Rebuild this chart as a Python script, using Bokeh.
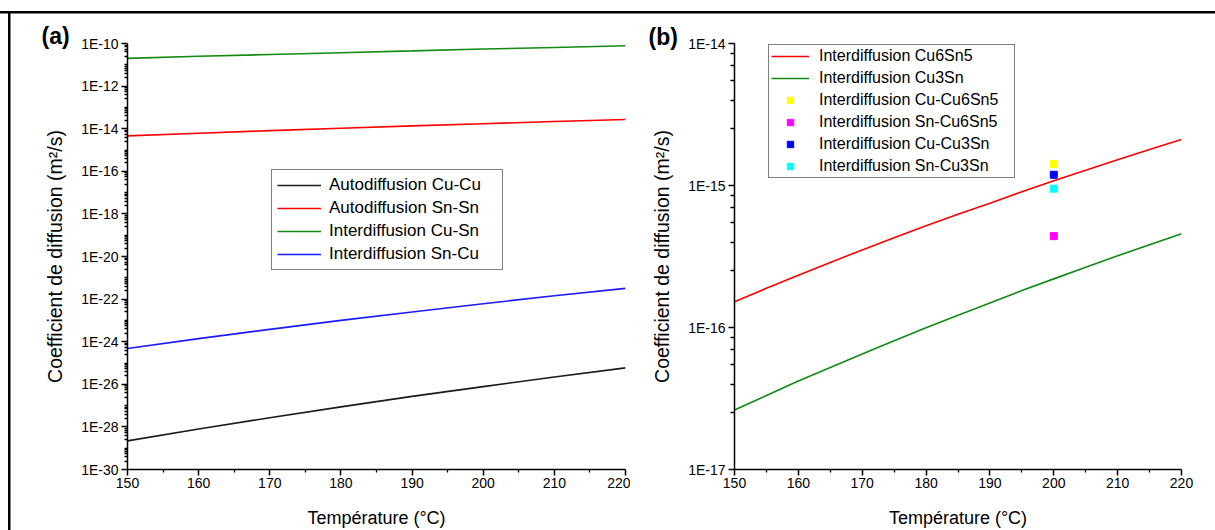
from bokeh.plotting import figure
from bokeh.layouts import row
from bokeh.models import (Range1d, FixedTicker, CustomJSTickFormatter, Title)
from bokeh.embed import file_html
from bokeh.resources import INLINE

# ---------------- data ----------------
temps_a = [150, 160, 170, 180, 190, 200, 210, 220]

# panel (a)
auto_cu_cu = [2.2e-29, 7.9e-29, 2.7e-28, 8.7e-28, 2.7e-27, 7.8e-27, 2.2e-26, 5.9e-26]
auto_sn_sn = [4.6e-15, 6.1e-15, 8.1e-15, 1.05e-14, 1.35e-14, 1.72e-14, 2.17e-14, 2.7e-14]
inter_cu_sn = [2.0e-11, 2.5e-11, 3.05e-11, 3.7e-11, 4.5e-11, 5.5e-11, 6.5e-11, 7.8e-11]
inter_sn_cu = [4.8e-25, 1.4e-24, 3.8e-24, 1.0e-23, 2.5e-23, 6.1e-23, 1.43e-22, 3.2e-22]

# panel (b)
temps_b = [150, 155, 160, 165, 170, 175, 180, 185, 190, 195, 200, 205, 210, 215, 220]
inter_cu6sn5 = [1.52e-16, 1.89e-16, 2.33e-16, 2.87e-16, 3.52e-16, 4.28e-16, 5.2e-16, 6.27e-16,
                7.5e-16, 9.03e-16, 1.08e-15, 1.28e-15, 1.52e-15, 1.79e-15, 2.11e-15]
inter_cu3sn = [2.62e-17, 3.32e-17, 4.2e-17, 5.22e-17, 6.5e-17, 8.07e-17, 9.95e-17, 1.22e-16,
               1.49e-16, 1.82e-16, 2.2e-16, 2.66e-16, 3.2e-16, 3.83e-16, 4.57e-16]
point_temp = [200]
cu_cu6sn5 = [1.42e-15]
sn_cu6sn5 = [4.4e-16]
cu_cu3sn = [1.19e-15]
sn_cu3sn = [9.5e-16]

x_ticks = [150, 160, 170, 180, 190, 200, 210, 220]
x_minor = [155, 165, 175, 185, 195, 205, 215]
left_y_exps = [-30, -28, -26, -24, -22, -20, -18, -16, -14, -12, -10]
left_y_labels = ["1E-30", "1E-28", "1E-26", "1E-24", "1E-22", "1E-20",
                 "1E-18", "1E-16", "1E-14", "1E-12", "1E-10"]
right_y_exps = [-17, -16, -15, -14]
right_y_labels = ["1E-17", "1E-16", "1E-15", "1E-14"]

FONT = "Liberation Sans"
FMT_CODE = """
const e = Math.round(Math.log10(tick));
const i = exps.indexOf(e);
return i >= 0 ? labels[i] : '';
"""


def minor_log(lo, hi):
    out = []
    for e in range(lo, hi):
        for m in (2.5, 4.0, 5.5, 7.0, 8.5):
            out.append(m * 10.0 ** e)
    return out


def style_axes(p, xlabel, ylabel):
    p.axis.axis_line_color = "black"
    p.axis.axis_line_width = 1.5
    p.axis.major_tick_line_color = "black"
    p.axis.major_tick_line_width = 1.5
    p.axis.minor_tick_line_color = "black"
    p.axis.minor_tick_line_width = 1.3
    p.axis.major_tick_in = 0
    p.axis.major_tick_out = 6
    p.axis.minor_tick_in = 0
    p.axis.minor_tick_out = 3
    p.axis.major_label_text_font = FONT
    p.axis.major_label_text_font_size = "14px"
    p.axis.major_label_text_color = "black"
    p.axis.axis_label_text_font = FONT
    p.axis.axis_label_text_font_style = "normal"
    p.axis.axis_label_text_color = "black"
    p.xaxis.axis_label_text_font_size = "18px"
    p.yaxis.axis_label_text_font_size = "19.5px"
    p.xaxis.axis_label = xlabel
    p.yaxis.axis_label = ylabel
    p.xaxis.major_label_standoff = 2
    p.xaxis.axis_label_standoff = 17
    p.yaxis.major_label_standoff = 3
    p.yaxis.axis_label_standoff = 12
    p.xaxis.ticker = FixedTicker(ticks=x_ticks, minor_ticks=x_minor)
    p.xgrid.visible = False
    p.ygrid.visible = False
    p.outline_line_color = None
    p.border_fill_alpha = 0


# ---------------- panel (a) ----------------
t1 = Title(text="(a)", align="left", offset=-86, standoff=-10,
           text_font=FONT, text_font_size="23px", text_font_style="bold", text_color="black")
p1 = figure(width=630, height=530, x_range=Range1d(150, 220), y_range=Range1d(1e-30, 1e-10),
            y_axis_type="log", output_backend="svg", toolbar_location=None, title=t1,
            min_border_left=127, min_border_right=5, min_border_top=43, min_border_bottom=61)
p1.line(temps_a, auto_cu_cu, color="#1a1a1a", line_width=1.6, legend_label="Autodiffusion Cu-Cu")
p1.line(temps_a, auto_sn_sn, color="#ff0000", line_width=1.6, legend_label="Autodiffusion Sn-Sn")
p1.line(temps_a, inter_cu_sn, color="#138a13", line_width=1.6, legend_label="Interdiffusion Cu-Sn")
p1.line(temps_a, inter_sn_cu, color="#1a1aff", line_width=1.6, legend_label="Interdiffusion Sn-Cu")
style_axes(p1, "Température (°C)", "Coefficient de diffusion (m²/s)")
p1.yaxis.ticker = FixedTicker(ticks=[10.0 ** e for e in left_y_exps],
                              minor_ticks=minor_log(-30, -10) + [10.0 ** e for e in range(-29, -10, 2)])
p1.yaxis.formatter = CustomJSTickFormatter(args=dict(exps=left_y_exps, labels=left_y_labels), code=FMT_CODE)

lg = p1.legend[0]
lg.location = (144, 199)
lg.border_line_color = "black"
lg.border_line_width = 1.8
lg.padding = 5
lg.spacing = 3
lg.glyph_width = 44
lg.glyph_height = 16
lg.label_height = 16
lg.label_width = 168
lg.label_standoff = 8
lg.label_text_font = FONT
lg.label_text_font_size = "17px"
lg.label_text_color = "black"
lg.margin = 0

p1.styles = {
    "background-image": "linear-gradient(#000, #000), linear-gradient(#000, #000)",
    "background-size": "100% 2.5px, 2.5px 100%",
    "background-position": "0px 11px, 8px 11px",
    "background-repeat": "no-repeat",
}

# ---------------- panel (b) ----------------
t2 = Title(text="(b)", align="left", offset=-86, standoff=-12,
           text_font=FONT, text_font_size="23px", text_font_style="bold", text_color="black")
p2 = figure(width=585, height=530, x_range=Range1d(150, 220), y_range=Range1d(1e-17, 1e-14),
            y_axis_type="log", output_backend="svg", toolbar_location=None, title=t2,
            min_border_left=104, min_border_right=34, min_border_top=38, min_border_bottom=60)
p2.line(temps_b, inter_cu6sn5, color="#ff0000", line_width=1.6, legend_label="Interdiffusion Cu6Sn5")
p2.line(temps_b, inter_cu3sn, color="#138a13", line_width=1.6, legend_label="Interdiffusion Cu3Sn")
p2.scatter(point_temp, cu_cu6sn5, marker="square", size=7, color="#ffff00", legend_label="Interdiffusion Cu-Cu6Sn5")
p2.scatter(point_temp, sn_cu6sn5, marker="square", size=7, color="#ff00ff", legend_label="Interdiffusion Sn-Cu6Sn5")
p2.scatter(point_temp, cu_cu3sn, marker="square", size=7, color="#0000ff", legend_label="Interdiffusion Cu-Cu3Sn")
p2.scatter(point_temp, sn_cu3sn, marker="square", size=7, color="#00ffff", legend_label="Interdiffusion Sn-Cu3Sn")
style_axes(p2, "Température (°C)", "Coefficient de diffusion (m²/s)")
p2.yaxis.ticker = FixedTicker(ticks=[10.0 ** e for e in right_y_exps], minor_ticks=minor_log(-17, -14))
p2.yaxis.formatter = CustomJSTickFormatter(args=dict(exps=right_y_exps, labels=right_y_labels), code=FMT_CODE)
p2.yaxis.minor_tick_out = 4

lg2 = p2.legend[0]
lg2.location = (34, 291)
lg2.border_line_color = "black"
lg2.border_line_width = 1.8
lg2.padding = 2
lg2.spacing = 4
lg2.glyph_width = 38
lg2.glyph_height = 16
lg2.label_height = 16
lg2.label_width = 193
lg2.label_standoff = 10
lg2.label_text_font = FONT
lg2.label_text_font_size = "16px"
lg2.label_text_color = "black"
lg2.margin = 0

p2.styles = {
    "background-image": "linear-gradient(#000, #000)",
    "background-size": "100% 2.5px",
    "background-position": "0px 11px",
    "background-repeat": "no-repeat",
}

layout = row(p1, p2)
open("out.html", "w").write(file_html(layout, INLINE))
